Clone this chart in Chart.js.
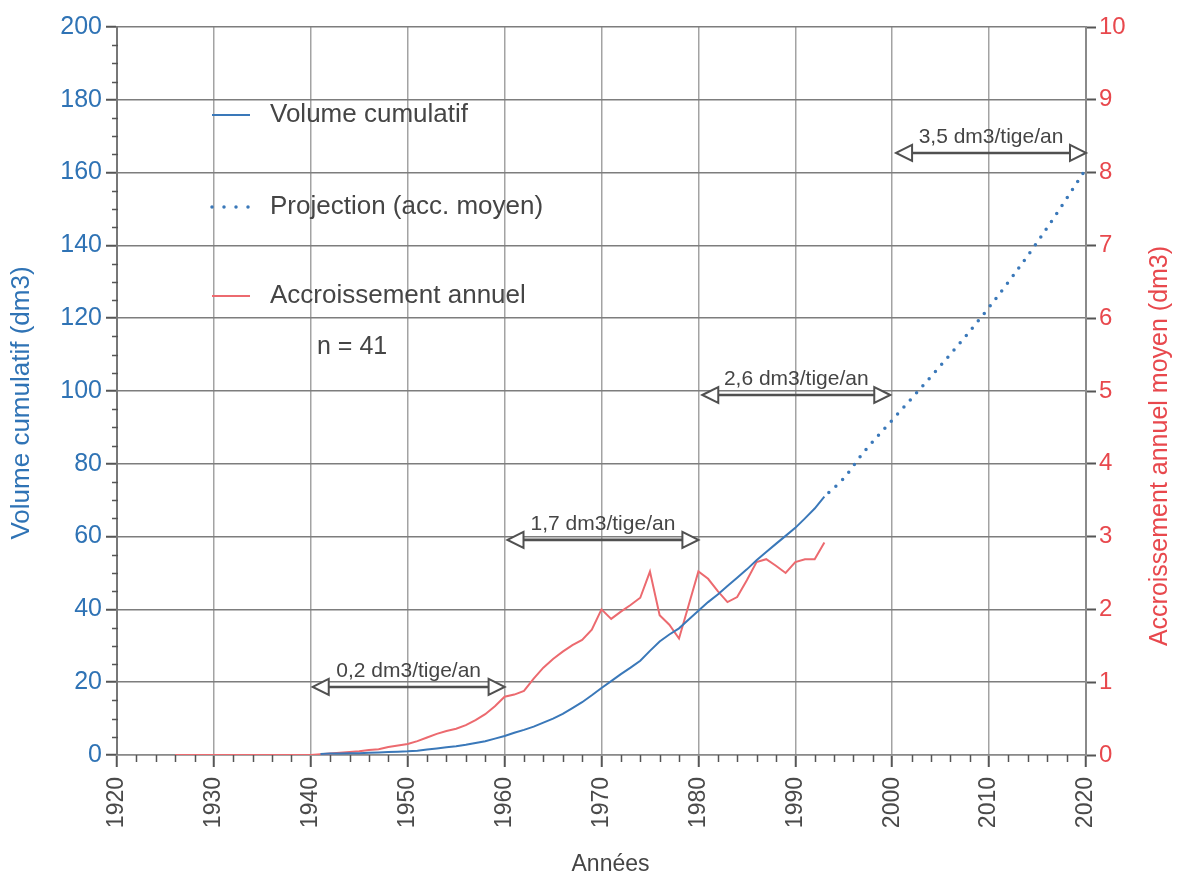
<!DOCTYPE html>
<html lang="fr">
<head>
<meta charset="utf-8">
<title>Volume cumulatif et accroissement annuel</title>
<script src="https://cdn.jsdelivr.net/npm/chart.js@4.4.1/dist/chart.umd.min.js"></script>
<style>
  html, body { margin: 0; padding: 0; background: #ffffff; }
  #wrap { width: 1178px; height: 877px; position: relative; }
</style>
</head>
<body>
<div id="wrap"><canvas id="chart" width="1178" height="877"></canvas></div>
<script>
// Cumulative stem volume (dm3), measured years
const volumeYears = [1941, 1942, 1943, 1944, 1945, 1946, 1947, 1948, 1949, 1950,
  1951, 1952, 1953, 1954, 1955, 1956, 1957, 1958, 1959, 1960,
  1961, 1962, 1963, 1964, 1965, 1966, 1967, 1968, 1969, 1970,
  1971, 1972, 1973, 1974, 1975, 1976, 1977, 1978, 1979, 1980,
  1981, 1982, 1983, 1984, 1985, 1986, 1987, 1988, 1989, 1990,
  1991, 1992, 1993];
const volumeValues = [0.3, 0.4, 0.4, 0.5, 0.5, 0.6, 0.7, 0.8, 0.9, 1.0,
  1.2, 1.5, 1.8, 2.1, 2.4, 2.8, 3.3, 3.8, 4.5, 5.2,
  6.1, 6.9, 7.8, 8.9, 10.0, 11.3, 12.9, 14.5, 16.4, 18.4,
  20.3, 22.2, 24.0, 25.9, 28.6, 31.2, 33.1, 34.8, 37.2, 39.6,
  42.0, 44.1, 46.4, 48.7, 51.0, 53.5, 55.8, 58.0, 60.2, 62.4,
  65.0, 67.7, 71.0];

// Projected cumulative volume using mean increments (dm3)
const projectionYears = [1993, 1995, 1997, 2000, 2005, 2010, 2015, 2020];
const projectionValues = [71.0, 76, 83, 92, 107, 123, 141, 161];

// Mean annual increment (dm3), right axis
const incrementYears = [1926, 1927, 1928, 1929, 1930, 1931, 1932, 1933, 1934, 1935,
  1936, 1937, 1938, 1939, 1940,
  1941, 1942, 1943, 1944, 1945, 1946, 1947, 1948, 1949, 1950,
  1951, 1952, 1953, 1954, 1955, 1956, 1957, 1958, 1959, 1960,
  1961, 1962, 1963, 1964, 1965, 1966, 1967, 1968, 1969, 1970,
  1971, 1972, 1973, 1974, 1975, 1976, 1977, 1978, 1979, 1980,
  1981, 1982, 1983, 1984, 1985, 1986, 1987, 1988, 1989, 1990,
  1991, 1992, 1993];
const incrementValues = [0, 0, 0, 0, 0, 0, 0, 0, 0, 0,
  0, 0, 0, 0, 0,
  0.01, 0.02, 0.03, 0.04, 0.05, 0.07, 0.08, 0.11, 0.13, 0.15,
  0.19, 0.24, 0.29, 0.33, 0.36, 0.41, 0.48, 0.56, 0.67, 0.80,
  0.83, 0.88, 1.05, 1.20, 1.32, 1.42, 1.51, 1.58, 1.72, 2.00,
  1.87, 1.97, 2.06, 2.16, 2.52, 1.92, 1.79, 1.60, 2.06, 2.52,
  2.42, 2.25, 2.10, 2.17, 2.40, 2.65, 2.69, 2.60, 2.50, 2.65,
  2.69, 2.69, 2.92];

// Period growth rates shown as double arrows
const rateLabels = ['0,2 dm3/tige/an', '1,7 dm3/tige/an', '2,6 dm3/tige/an', '3,5 dm3/tige/an'];
const rateFrom = [1940.2, 1960.3, 1980.4, 2000.4];
const rateTo = [1960, 1980, 1999.8, 2020];
const rateLevel = [18.7, 59.1, 98.9, 165.4];

const legendLabels = ['Volume cumulatif', 'Projection (acc. moyen)', 'Accroissement annuel'];
const sampleSize = 'n = 41';

const FONT = '"Liberation Sans", Arial, Helvetica, sans-serif';
const BLUE = '#3a78b9';
const BLUE_TEXT = '#2f73b5';
const RED = '#ec6a6f';
const RED_TEXT = '#e8484d';
const INK = '#454545';

const toPoints = (xs, ys) => xs.map((x, i) => ({ x: x, y: ys[i] }));

// Minor ticks, rate arrows, in-plot legend and axis titles
const decorations = {
  id: 'decorations',
  afterDatasetsDraw(chart) {
    const { ctx, chartArea: a, scales } = chart;
    const x = scales.x, y = scales.y;
    ctx.save();

    // minor ticks: every 5 dm3 on the left axis, every 2 years on the time axis
    ctx.strokeStyle = '#555';
    ctx.lineWidth = 1.5;
    ctx.beginPath();
    for (let v = 5; v < 200; v += 5) {
      if (v % 20 === 0) continue;
      const py = Math.round(y.getPixelForValue(v)) + 0.5;
      ctx.moveTo(a.left - 5, py);
      ctx.lineTo(a.left + 1, py);
    }
    for (let yr = 1922; yr < 2020; yr += 2) {
      if (yr % 10 === 0) continue;
      const px = Math.round(x.getPixelForValue(yr)) + 0.5;
      ctx.moveTo(px, a.bottom);
      ctx.lineTo(px, a.bottom + 7);
    }
    ctx.stroke();

    // double arrows with open heads and their labels
    const hl = 16, hh = 8;
    rateLabels.forEach((label, i) => {
      const x1 = x.getPixelForValue(rateFrom[i]);
      const x2 = x.getPixelForValue(rateTo[i]);
      const py = y.getPixelForValue(rateLevel[i]);
      ctx.strokeStyle = '#505050';
      ctx.lineWidth = 2.6;
      ctx.beginPath();
      ctx.moveTo(x1 + hl, py);
      ctx.lineTo(x2 - hl, py);
      ctx.stroke();
      ctx.lineWidth = 2;
      ctx.fillStyle = '#ffffff';
      [[x1, 1], [x2, -1]].forEach(([tip, dir]) => {
        ctx.beginPath();
        ctx.moveTo(tip, py);
        ctx.lineTo(tip + dir * hl, py - hh);
        ctx.lineTo(tip + dir * hl, py + hh);
        ctx.closePath();
        ctx.fill();
        ctx.stroke();
      });
      ctx.fillStyle = INK;
      ctx.font = '21px ' + FONT;
      ctx.textAlign = 'center';
      ctx.textBaseline = 'alphabetic';
      ctx.fillText(label, (x1 + x2) / 2, py - 10);
    });

    // legend drawn inside the plot
    const lx0 = a.left + 95, lx1 = a.left + 133, tx = a.left + 153;
    const rows = [a.top + 88, a.top + 180, a.top + 269];
    ctx.lineCap = 'butt';
    ctx.setLineDash([]);
    ctx.lineWidth = 2;
    ctx.strokeStyle = BLUE;
    ctx.beginPath(); ctx.moveTo(lx0, rows[0]); ctx.lineTo(lx1, rows[0]); ctx.stroke();
    ctx.lineWidth = 3.5;
    ctx.lineCap = 'round';
    ctx.setLineDash([0, 12]);
    ctx.beginPath(); ctx.moveTo(lx0, rows[1]); ctx.lineTo(lx1 + 1, rows[1]); ctx.stroke();
    ctx.setLineDash([]);
    ctx.lineCap = 'butt';
    ctx.lineWidth = 2;
    ctx.strokeStyle = RED;
    ctx.beginPath(); ctx.moveTo(lx0, rows[2]); ctx.lineTo(lx1, rows[2]); ctx.stroke();

    ctx.fillStyle = INK;
    ctx.font = '26px ' + FONT;
    ctx.textAlign = 'left';
    ctx.textBaseline = 'middle';
    legendLabels.forEach((t, i) => ctx.fillText(t, tx, rows[i]));
    ctx.font = '25px ' + FONT;
    ctx.fillText(sampleSize, a.left + 200, a.top + 320);

    // axis titles
    const midY = (a.top + a.bottom) / 2;
    ctx.textAlign = 'center';
    ctx.textBaseline = 'middle';
    ctx.save();
    ctx.translate(22, midY + 12);
    ctx.rotate(-Math.PI / 2);
    ctx.fillStyle = BLUE_TEXT;
    ctx.font = '26px ' + FONT;
    ctx.fillText('Volume cumulatif (dm3)', 0, 0);
    ctx.restore();

    ctx.save();
    ctx.translate(chart.width - 18, midY + 55);
    ctx.rotate(-Math.PI / 2);
    ctx.fillStyle = RED_TEXT;
    ctx.font = '25px ' + FONT;
    ctx.fillText('Accroissement annuel moyen (dm3)', 0, 0);
    ctx.restore();

    ctx.fillStyle = INK;
    ctx.font = '23px ' + FONT;
    ctx.fillText('Années', (a.left + a.right) / 2 + 9, 865);

    ctx.restore();
  }
};

new Chart(document.getElementById('chart'), {
  type: 'line',
  data: {
    datasets: [
      {
        label: legendLabels[0],
        data: toPoints(volumeYears, volumeValues),
        yAxisID: 'y',
        borderColor: BLUE,
        borderWidth: 2,
        pointRadius: 0,
        tension: 0
      },
      {
        label: legendLabels[1],
        data: toPoints(projectionYears, projectionValues),
        yAxisID: 'y',
        borderColor: BLUE,
        borderWidth: 3.5,
        borderDash: [0, 9.5],
        borderDashOffset: -6,
        borderCapStyle: 'round',
        cubicInterpolationMode: 'monotone',
        pointRadius: 0
      },
      {
        label: legendLabels[2],
        data: toPoints(incrementYears, incrementValues),
        yAxisID: 'y2',
        borderColor: RED,
        borderWidth: 2,
        pointRadius: 0,
        tension: 0
      }
    ]
  },
  options: {
    responsive: false,
    animation: false,
    devicePixelRatio: 1,
    layout: { padding: { top: 27, left: 0, right: 0, bottom: 0 } },
    plugins: {
      legend: { display: false },
      tooltip: { enabled: false },
      title: { display: false }
    },
    scales: {
      x: {
        type: 'linear',
        min: 1920,
        max: 2020,
        afterFit(s) { s.height = 122; },
        ticks: {
          stepSize: 10,
          autoSkip: false,
          maxRotation: 90,
          minRotation: 90,
          padding: 10,
          color: '#4a4a4a',
          font: { size: 23, family: FONT },
          callback: (v) => String(v)
        },
        grid: { color: '#a3a3a3', lineWidth: 1.5, tickLength: 12, tickColor: '#555', tickWidth: 2 },
        border: { color: '#8a8a8a', width: 1.5 }
      },
      y: {
        position: 'left',
        min: 0,
        max: 200,
        afterFit(s) { s.width = 117; },
        ticks: {
          stepSize: 20,
          padding: 4,
          color: BLUE_TEXT,
          font: { size: 25, family: FONT }
        },
        grid: { color: '#7d7d7d', lineWidth: 1.5, tickLength: 11, tickColor: '#555', tickWidth: 2 },
        border: { color: '#777', width: 2 }
      },
      y2: {
        position: 'right',
        min: 0,
        max: 10,
        afterFit(s) { s.width = 92; },
        ticks: {
          stepSize: 1,
          padding: 3,
          color: RED_TEXT,
          font: { size: 24, family: FONT }
        },
        grid: { drawOnChartArea: false, tickLength: 10, tickColor: '#555', tickWidth: 2 },
        border: { color: '#8a8a8a', width: 2 }
      }
    }
  },
  plugins: [decorations]
});
</script>
</body>
</html>
